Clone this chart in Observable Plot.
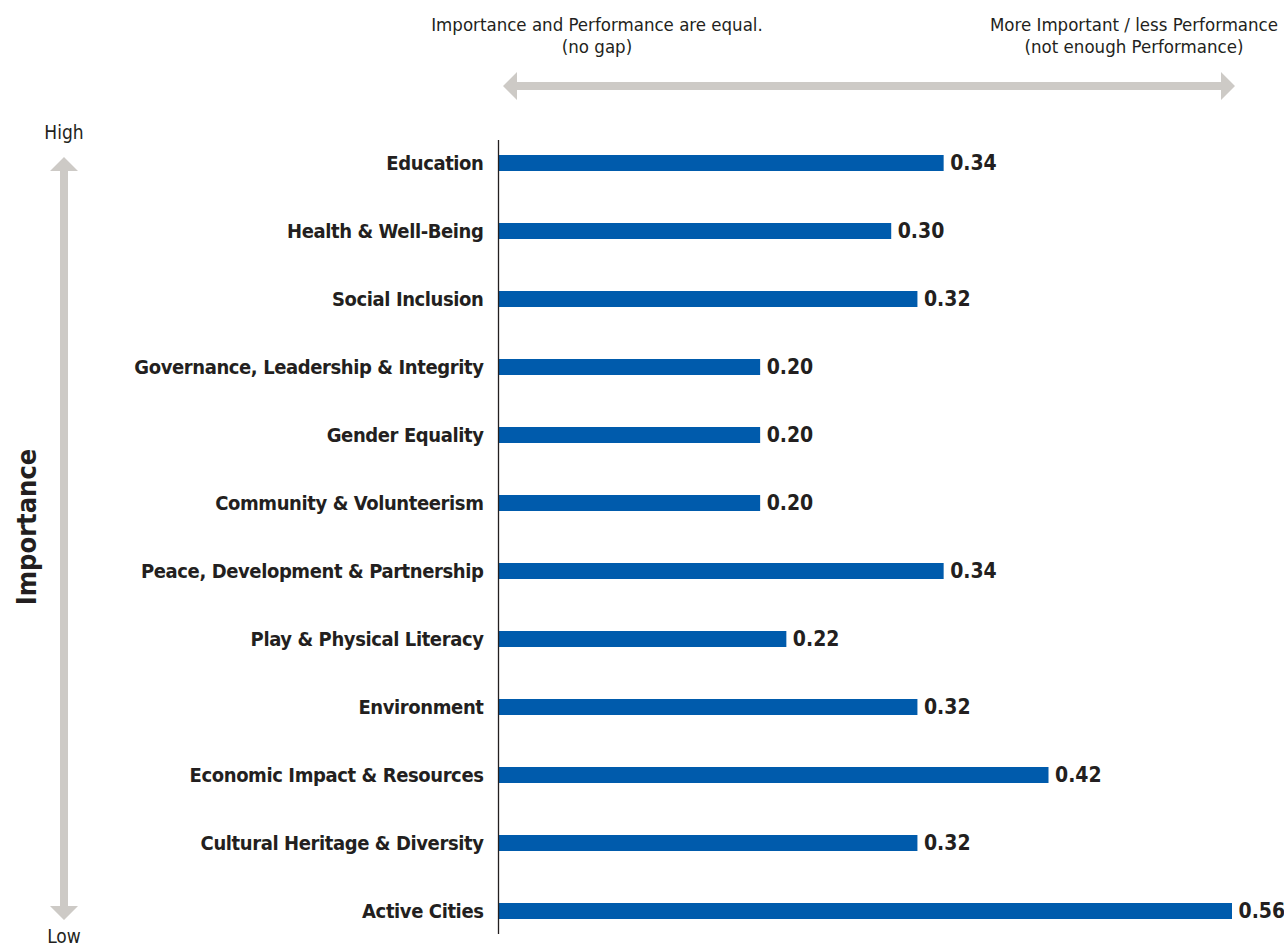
<!DOCTYPE html>
<html>
<head>
<meta charset="utf-8">
<script src="https://cdn.jsdelivr.net/npm/d3@7"></script>
<script src="https://cdn.jsdelivr.net/npm/@observablehq/plot@0.6"></script>
<style>
  html, body { margin: 0; padding: 0; background: #fff; }
  #chart svg { display: block; }
</style>
</head>
<body>
<div id="chart"></div>
<script>
const categories = [
  "Education",
  "Health & Well-Being",
  "Social Inclusion",
  "Governance, Leadership & Integrity",
  "Gender Equality",
  "Community & Volunteerism",
  "Peace, Development & Partnership",
  "Play & Physical Literacy",
  "Environment",
  "Economic Impact & Resources",
  "Cultural Heritage & Diversity",
  "Active Cities"
];
const values = [0.34, 0.30, 0.32, 0.20, 0.20, 0.20, 0.34, 0.22, 0.32, 0.42, 0.32, 0.56];
const topLeftText = ["Importance and Performance are equal.", "(no gap)"];
const topRightText = ["More Important / less Performance", "(not enough Performance)"];
const axisTitle = "Importance";
const highLabel = "High";
const lowLabel = "Low";

const data = categories.map((c, i) => ({category: c, value: values[i]}));

const FONT = "'Liberation Sans Narrow', 'DejaVu Sans Condensed', 'Roboto', sans-serif";
const INK = "#231f20";
const GREY = "#cdcac6";
const BLUE = "#005bac";

const W = 1284, H = 945;

const chart = Plot.plot({
  width: W,
  height: H,
  marginLeft: 498,
  marginRight: 52,
  marginTop: 140,
  marginBottom: 11,
  style: {fontFamily: FONT, background: "#fff", overflow: "visible"},
  x: {domain: [0, 0.56], axis: null},
  y: {domain: categories, paddingInner: 0.765, paddingOuter: 0.2207, label: null},
  marks: [
    Plot.axisY({
      tickSize: 0,
      tickPadding: 15,
      fontSize: 20,
      fontWeight: "bold",
      fill: INK,
      label: null
    }),
    Plot.barX(data, {x: "value", y: "category", fill: BLUE}),
    Plot.text(data, {
      x: "value", y: "category",
      text: d => d.value.toFixed(2),
      textAnchor: "start", dx: 6,
      fontSize: 21, fontWeight: "bold", fill: INK
    }),
    Plot.ruleX([0], {stroke: INK, strokeWidth: 1.3})
  ]
});

document.getElementById("chart").appendChild(chart);

// tighten y-axis labels slightly to match the condensed look
d3.select(chart).selectAll("[aria-label='y-axis tick label'] text")
  .attr("letter-spacing", "-0.4px");

// decorations
const svg = d3.select(chart);
const g = svg.append("g").attr("font-family", FONT);

// horizontal double arrow
const hy = 86, hx1 = 503, hx2 = 1235, hw = 4, hh = 14, hl = 14;
g.append("path")
  .attr("fill", GREY)
  .attr("d", `M${hx1},${hy} L${hx1 + hl},${hy - hh} L${hx1 + hl},${hy - hw} L${hx2 - hl},${hy - hw} L${hx2 - hl},${hy - hh} L${hx2},${hy} L${hx2 - hl},${hy + hh} L${hx2 - hl},${hy + hw} L${hx1 + hl},${hy + hw} L${hx1 + hl},${hy + hh} Z`);

// vertical double arrow
const vx = 64, vy1 = 157, vy2 = 920, vw = 4, vh = 14, vl = 14;
g.append("path")
  .attr("fill", GREY)
  .attr("d", `M${vx},${vy1} L${vx + vh},${vy1 + vl} L${vx + vw},${vy1 + vl} L${vx + vw},${vy2 - vl} L${vx + vh},${vy2 - vl} L${vx},${vy2} L${vx - vh},${vy2 - vl} L${vx - vw},${vy2 - vl} L${vx - vw},${vy1 + vl} L${vx - vh},${vy1 + vl} Z`);

function lines(x, y0, arr, size) {
  arr.forEach((t, i) => {
    g.append("text")
      .attr("x", x).attr("y", y0 + i * 22)
      .attr("text-anchor", "middle")
      .attr("dominant-baseline", "middle")
      .attr("font-size", size)
      .attr("fill", INK)
      .text(t);
  });
}
lines(597, 26, topLeftText, 18.5);
lines(1134, 26, topRightText, 18.5);

g.append("text")
  .attr("x", 64).attr("y", 133)
  .attr("text-anchor", "middle").attr("dominant-baseline", "middle")
  .attr("font-size", 19).attr("fill", INK).text(highLabel);
g.append("text")
  .attr("x", 64).attr("y", 937)
  .attr("text-anchor", "middle").attr("dominant-baseline", "middle")
  .attr("font-size", 19).attr("fill", INK).text(lowLabel);

g.append("text")
  .attr("transform", "translate(28,527) rotate(-90)")
  .attr("text-anchor", "middle").attr("dominant-baseline", "middle")
  .attr("font-size", 27).attr("font-weight", "bold")
  .attr("fill", INK).text(axisTitle);
</script>
</body>
</html>
